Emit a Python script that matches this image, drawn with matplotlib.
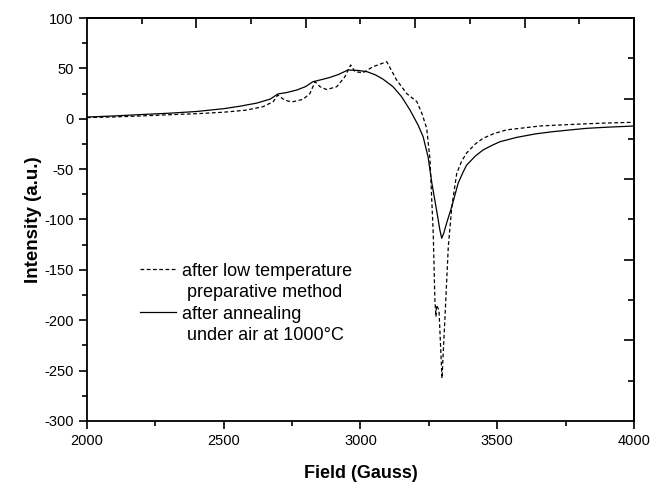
import matplotlib
matplotlib.use("Agg")
import matplotlib.pyplot as plt
from matplotlib.lines import Line2D
from matplotlib.ticker import MultipleLocator, FixedLocator

plt.rcParams["font.family"] = ["Liberation Sans", "DejaVu Sans"]
plt.rcParams["axes.unicode_minus"] = False

# after annealing under air at 1000 C (solid)
field_ann = [2000, 2100, 2200, 2300, 2400, 2500, 2560, 2620, 2670, 2698,
             2730, 2767, 2800, 2826, 2860, 2888, 2920, 2954, 2990, 3024,
             3055, 3082, 3119, 3150, 3181, 3210, 3229, 3247, 3261, 3280,
             3290, 3297, 3305, 3315, 3334, 3357, 3375, 3388, 3420, 3448,
             3480, 3510, 3571, 3640, 3704, 3770, 3827, 3900, 4000]
int_ann = [1.7, 2.8, 4.2, 5.5, 7.2, 10, 12.5, 15.5, 19.5, 24.6,
           26, 28.5, 32, 36.8, 39, 41, 44, 48.4, 48, 46.7,
           43.5, 39.4, 31.8, 22, 8.7, -6, -17.8, -37.7, -64, -93.6,
           -110, -118.7, -113, -103.5, -87, -64, -53, -46, -37, -31,
           -26.5, -22.8, -18.5, -15, -12.8, -11, -9.5, -8.4, -7.2]

# after low temperature preparative method (dashed)
field_low = [2000, 2100, 2200, 2300, 2400, 2500, 2580, 2644, 2681, 2698,
             2717, 2735, 2754, 2790, 2815, 2834, 2852, 2876, 2913, 2943,
             2964, 2980, 3009, 3046, 3096, 3132, 3169, 3206, 3225, 3242,
             3254, 3266, 3272, 3276, 3278, 3287, 3298, 3309, 3321, 3334,
             3352, 3370, 3388, 3420, 3448, 3490, 3535, 3583, 3656, 3704,
             3827, 3900, 4000]
int_low = [1.2, 1.8, 2.8, 4, 5, 6.5, 8.5, 12, 17, 23.6,
           19.6, 17.5, 17, 19.3, 25, 36.8, 31.8, 29, 31.8, 41.7,
           53.4, 46.7, 45.7, 51.7, 56.6, 38.5, 25, 17, 5, -9.5,
           -40, -114, -180, -196.5, -185, -190, -257.6, -196.5, -127, -87,
           -54, -42, -34, -25, -19.4, -14.5, -11, -9.5, -7.2, -6.5,
           -5, -4.2, -3.5]

legend_labels = ["after low temperature", " preparative method",
                 "after annealing", " under air at 1000°C"]

fig = plt.figure(figsize=(6.52, 4.83), dpi=100)
ax = fig.add_axes([0.1334, 0.1284, 0.839, 0.8343])

h_low, = ax.plot(field_low, int_low, color="black", lw=0.9, ls=(0, (3, 2)))
h_ann, = ax.plot(field_ann, int_ann, color="black", lw=0.9)

ax.set_xlim(2000, 4000)
ax.set_ylim(-300, 100)
ax.xaxis.set_major_locator(MultipleLocator(500))
ax.xaxis.set_minor_locator(MultipleLocator(250))
ax.yaxis.set_major_locator(MultipleLocator(50))
ax.yaxis.set_minor_locator(MultipleLocator(25))
ax.tick_params(which="major", direction="out", length=6, width=1.2, labelsize=10.5)
ax.tick_params(which="minor", direction="out", length=3.5, width=1.2)

for s in ax.spines.values():
    s.set_linewidth(1.3)

# top / right ticks (inward, no labels)
top = ax.secondary_xaxis("top")
top.xaxis.set_major_locator(FixedLocator([2400, 2800, 3200, 3600]))
top.xaxis.set_minor_locator(FixedLocator([2200, 2600, 3000, 3400, 3800]))
top.tick_params(which="major", direction="in", length=7, width=1.2, labeltop=False)
top.tick_params(which="minor", direction="in", length=4, width=1.2)
right = ax.secondary_yaxis("right")
right.yaxis.set_major_locator(FixedLocator([20, -60, -140, -220]))
right.yaxis.set_minor_locator(FixedLocator([60, -20, -100, -180, -260]))
right.tick_params(which="major", direction="in", length=7, width=1.2, labelright=False)
right.tick_params(which="minor", direction="in", length=4, width=1.2)
for sec in (top, right):
    for s in sec.spines.values():
        s.set_linewidth(1.3)

ax.set_xlabel("Field (Gauss)", fontsize=13, fontweight="bold", labelpad=12)
ax.set_ylabel("Intensity (a.u.)", fontsize=13.5, fontweight="bold", labelpad=2)

# second text line of each entry gets an empty handle
blank = Line2D([], [], color="none")
ax.legend([h_low, blank, h_ann, blank], legend_labels,
          loc="upper left", bbox_to_anchor=(0.097, 0.393), frameon=False,
          fontsize=13, handlelength=2.0, handletextpad=0.35,
          labelspacing=0.25, borderaxespad=0, borderpad=0)

fig.savefig("out.png", dpi=100)
